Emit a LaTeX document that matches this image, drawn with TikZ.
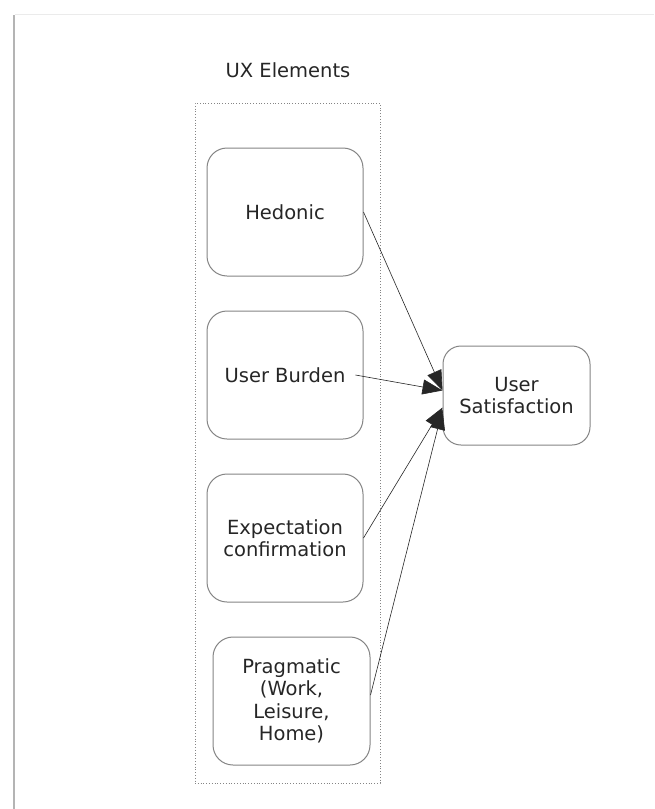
\documentclass[tikz,border=0pt]{standalone}
\usepackage{fontspec}
\setmainfont{DejaVu Sans}
\usetikzlibrary{arrows.meta}
\definecolor{boxline}{HTML}{858585}
\definecolor{txt}{HTML}{262626}
\definecolor{pageedge}{HTML}{B4B4B4}
\begin{document}
\begin{tikzpicture}[x=1pt,y=-1pt,
  element/.style={draw=boxline, line width=1pt, rounded corners=20pt,
    minimum width=156pt, minimum height=128pt, align=center,
    text=txt, font=\fontsize{19.5}{22.5}\selectfont},
  link/.style={draw=black!85, line width=0.6pt,
    -{Triangle[length=20pt,width=15pt]}}]
  \useasboundingbox (0,0) rectangle (654,809);
  \fill[white] (0,0) rectangle (654,809);
  % sheet edges
  \draw[pageedge, line width=2pt] (14,15) -- (14,809);
  \draw[black!8, line width=1pt] (15,14) -- (654,14);
  % group frame and its title
  \node[draw=boxline, dotted, line width=0.8pt, minimum width=185pt,
    minimum height=680pt] (grp) at (287.5,443) {};
  \node[text=txt, font=\fontsize{19.5}{22.5}\selectfont] (title) at (288,70) {UX Elements};
  % elements
  \node[element] (hed) at (285,212) {Hedonic};
  \node[element] (ub) at (285,375) {User Burden};
  \node[element] (exp) at (285,538) {Expectation\\confirmation};
  \node[element, minimum width=157pt] (prag) at (291.5,701) {Pragmatic\\(Work,\\Leisure,\\Home)};
  \node[element, rounded corners=18pt, minimum width=147pt, minimum height=99pt]
    (us) at (516.5,395.5) {User\\Satisfaction};
  % connectors
  \draw[link] (hed.east) -- ([yshift=5pt]us.west);
  \draw[link] ([xshift=-8pt]ub.east) -- ([yshift=5pt]us.west);
  \draw[link] (exp.east) -- ([yshift=-12pt]us.west);
  \draw[link] ([yshift=6pt]prag.east) -- ([yshift=-14pt]us.west);
\end{tikzpicture}
\end{document}
